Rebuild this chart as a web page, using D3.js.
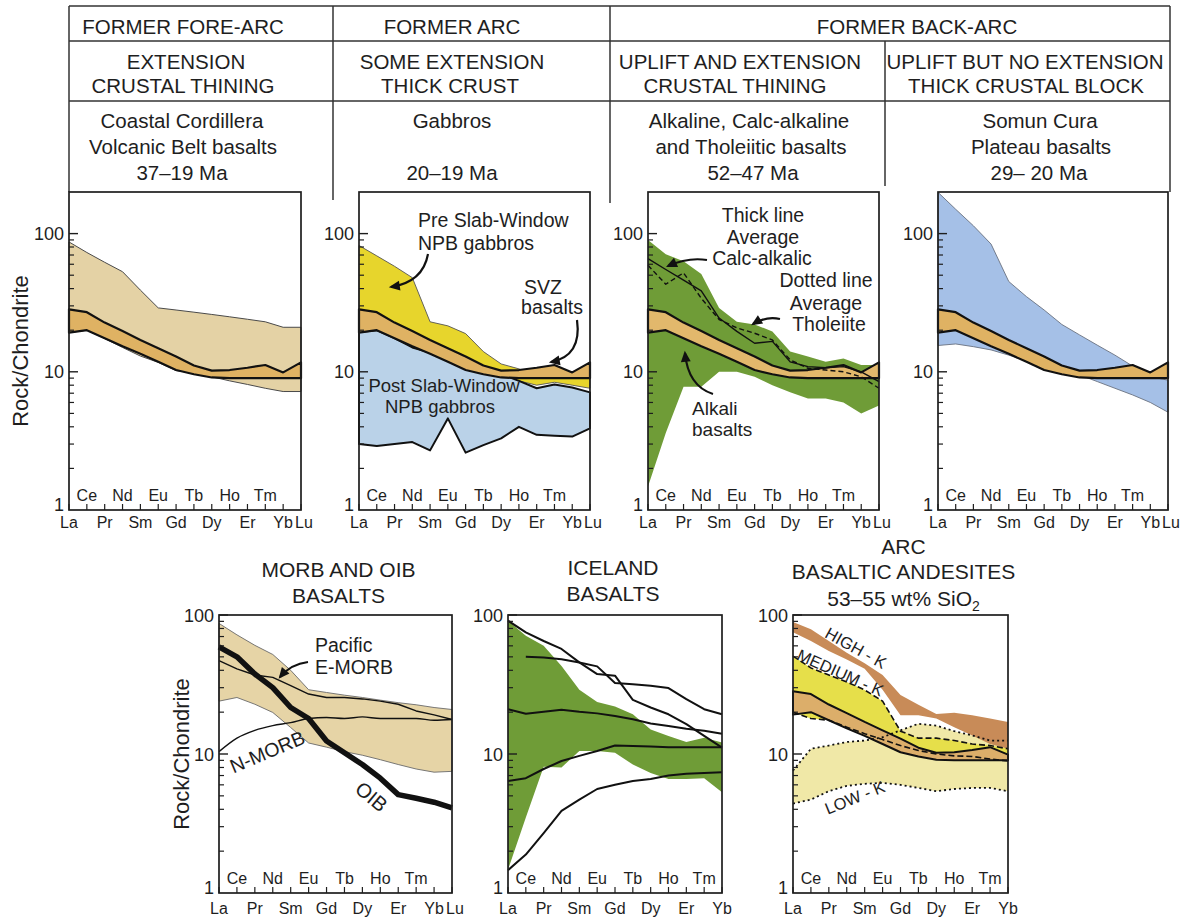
<!DOCTYPE html>
<html>
<head>
<meta charset="utf-8">
<script src="https://cdn.jsdelivr.net/npm/d3@7"></script>
<style>
  body { margin: 0; background: #fff; }
  text { font-family: "Liberation Sans", Arial, Helvetica, sans-serif; fill: #1e1e1e; }
</style>
</head>
<body>
<svg id="chart" width="1184" height="917"></svg>
<script>
// ---------- data ----------
const ree14 = ["La","Ce","Pr","Nd","Sm","Eu","Gd","Tb","Dy","Ho","Er","Tm","Yb","Lu"];
const ree13 = ree14.slice(0, 13);
const yTicks = [1, 10, 100];

// SVZ basalts band (reference field in the top panels and the arc panel)
const svzUpper = [28.3, 27, 22.7, 19.7, 17, 14.8, 12.9, 11.1, 10.2, 10.3, 10.7, 11.2, 9.9, 11.7];
const svzLower = [19.2, 20, 17.5, 15.3, 13.5, 11.8, 10.3, 9.6, 9.1, 9.0, 9.0, 9.0, 9.0, 9.0];

// former fore-arc: Coastal Cordillera basalts
const foreUpper = [87, 73, 62, 53, 39, 29, 28, 27, 26, 25, 24, 23, 21, 21];
const foreLower = [19.2, 20, 17.4, 15, 13, 11.7, 10.2, 9.8, 9.2, 8.6, 8.1, 7.6, 7.2, 7.2];

// former arc: gabbros
const preUpper  = [82, 69, 58, 48, 23, 21.5, 18.9, 14, 11.4, 10.5, 9.0, 9.0, 9.0, 9.0];
const preLower  = [19, 20, 17, 15, 13, 11.5, 10.5, 9.6, 9.2, 8.6, 8.0, 8.4, 8.0, 7.6];
const postUpper = [19.4, 20, 17.5, 15, 13.8, 12.6, 11.6, 10.5, 9.6, 8.6, 7.6, 8.1, 7.7, 7.1];
const postLower = [3.0, 2.9, 3.0, 3.1, 2.7, 4.6, 2.6, 2.95, 3.3, 4.0, 3.5, 3.45, 3.4, 3.9];

// former back-arc: alkaline / calc-alkaline / tholeiitic basalts
const alkUpper = [90, 71, 63, 51, 29, 23, 22, 19.6, 14, 12.9, 11.8, 12.5, 11.2, 11.2];
const alkLower = [1.48, 3.6, 7.8, 7.8, 10, 10, 9.2, 8.0, 7.1, 6.4, 6.4, 6.0, 5.0, 5.7];
const calcAlk  = [66, 55, 46, 38.5, 24.5, 19.6, 16.1, 16.6, 11.8, 10.9, 10.7, 10.9, 10, 8.5];
const thol     = [59, 43, 52, 34, 23.9, 20.8, 19, 17, 12.2, 10.6, 10.3, 10, 9.2, 7.6];

// Somun Cura plateau basalts
const somunUpper = [199, 150, 114, 84, 45, 35, 28, 22, 18.5, 15.6, 13.2, 11, 9.2, 8.7];
const somunLower = [15.5, 15.9, 15.2, 14.4, 13.2, 12, 10.9, 10, 9.5, 8.5, 7.6, 6.8, 6.0, 5.1];

// MORB and OIB
const morbUpper = [87, 72, 60.5, 52, 40, 29, 27.7, 26.5, 25.5, 24.4, 23.4, 22.6, 21.6, 20.9];
const morbLower = [24, 25.5, 22.8, 19.9, 15.5, 12, 11.2, 10.4, 9.8, 9.1, 8.4, 7.8, 7.4, 7.5];
const eMorb = [47, 41, 37, 35.6, 31, 27, 25.5, 25.5, 24.9, 24, 22.8, 20.4, 19.1, 17.7];
const nMorb = [10.4, 13, 14.8, 16, 16.8, 18, 18.3, 18, 18.5, 18, 18, 18, 17.5, 17.7];
const oib   = [59, 50, 37.6, 30, 21.6, 18, 12.4, 10.2, 8.4, 6.7, 5.1, 4.8, 4.5, 4.1];

// Iceland basalts
const iceUpper = [91, 71, 60, 43, 29, 23.7, 22, 19.3, 15, 13.5, 12.2, 13.1, 12.1];
const iceLower = [1.47, 3.5, 8.1, 8, 10.5, 10.5, 10.2, 8.4, 7.3, 6.6, 6.6, 6.7, 5.3];
const iceLines = [
  [91, 75, 65, 57, 45.6, 37.6, 36.6, 24.5, 21.6, 19.3, 16.4, 13.5, 11.1],
  [null, 50, 49.5, 48, 45.6, 42.7, 32.4, 31.8, 31, 29.8, 24.8, 21, 19.3],
  [21, 19.5, 20.1, 20.8, 20.1, 19.6, 18.8, 17.8, 16.6, 15.9, 15.2, 14.7, 14.0],
  [6.4, 6.7, 7.8, 8.9, 9.7, 10.5, 11.5, 11.4, 11.3, 11.2, 11.2, 11.2, 11.2],
  [1.46, 1.89, 2.7, 3.9, 4.7, 5.6, 6.0, 6.4, 6.6, 7.0, 7.2, 7.3, 7.4]
];

// arc basaltic andesites
const highKUpper = [89, 79, 65, 53.5, 45, 37, 26.6, 22.6, 19.4, 19.8, 19, 18, 17];
const highKLower = [75, 65, 55, 47.8, 41, 29, 19, 19, 18, 15.6, 13.6, 11.8, 10.9];
const medKUpper  = [50.6, 41.6, 37, 33, 28.9, 24, 14.6, 13, 13, 12.5, 11.8, 11.5, 10.9];
const medKLower  = [20, 18, 17.5, 15.6, 14, 12.7, 11.5, 10.6, 10, 9.7, 9.6, 9.2, 8.9];
const lowKUpper  = [7.6, 10.9, 11.5, 12.2, 12.5, 13.2, 14.8, 16.5, 16, 14.6, 13.6, 12.5, 12.5];
const lowKLower  = [4.4, 4.7, 5.4, 5.9, 6.1, 6.2, 6.0, 5.7, 5.4, 5.6, 5.7, 5.7, 5.4];

// ---------- helpers ----------
const svg = d3.select("#chart");

svg.append("defs").append("marker")
    .attr("id", "arrow")
    .attr("viewBox", "0 0 10 10")
    .attr("refX", 8).attr("refY", 5)
    .attr("markerUnits", "userSpaceOnUse")
    .attr("markerWidth", 13).attr("markerHeight", 11)
    .attr("orient", "auto")
  .append("path")
    .attr("d", "M0,0.5 L10,5 L0,9.5 Z")
    .attr("fill", "#111");

function addPanel(p) {
    const w = p.right - p.left, h = p.bottom - p.top;
    const g = svg.append("g").attr("transform", `translate(${p.left},${p.top})`);
    const x = d3.scalePoint().domain(p.el).range([0, w]);
    const y = d3.scaleLog().domain([1, p.ymax]).range([h, 0]);
    const plot = g.append("g");
    return { g, plot, x, y, w, h, el: p.el, gap: p.gap };
}

function field(P, upper, lower, fill, stroke, sw) {
    const area = d3.area()
        .x((d, i) => P.x(P.el[i]))
        .y0(d => P.y(d[1]))
        .y1(d => P.y(d[0]));
    P.plot.append("path")
        .datum(d3.zip(upper, lower))
        .attr("d", area)
        .attr("fill", fill)
        .attr("stroke", stroke || "none")
        .attr("stroke-width", sw || 1)
        .attr("stroke-linejoin", "round");
}

function curve(P, values, sw, dash, smooth) {
    const line = d3.line()
        .defined(d => d != null)
        .x((d, i) => P.x(P.el[i]))
        .y(d => P.y(d));
    if (smooth) line.curve(d3.curveMonotoneX);
    P.plot.append("path")
        .datum(values)
        .attr("d", line)
        .attr("fill", "none")
        .attr("stroke", "#111")
        .attr("stroke-width", sw)
        .attr("stroke-dasharray", dash || null)
        .attr("stroke-linejoin", "round");
}

function finishPanel(P) {
    const { g, x, y, w, h, el } = P;
    const top = y.domain()[1];

    g.append("rect")
        .attr("width", w).attr("height", h)
        .attr("fill", "none").attr("stroke", "#1e1e1e").attr("stroke-width", 1.7);

    const minor = [];
    for (let dec = 1; dec < top; dec *= 10)
        for (let k = 2; k <= 9; k++) if (k * dec < top) minor.push(k * dec);

    g.append("g").selectAll("line").data(minor).join("line")
        .attr("x1", 0).attr("x2", 5)
        .attr("y1", d => y(d)).attr("y2", d => y(d))
        .attr("stroke", "#1e1e1e").attr("stroke-width", 1.2);
    g.append("g").selectAll("line").data(yTicks.filter(d => d > 1)).join("line")
        .attr("x1", 0).attr("x2", 9)
        .attr("y1", d => y(d)).attr("y2", d => y(d))
        .attr("stroke", "#1e1e1e").attr("stroke-width", 1.4);

    const ya = g.append("g")
        .call(d3.axisLeft(y).tickValues(yTicks).tickSize(0).tickPadding(5).tickFormat(d3.format("d")));
    ya.select(".domain").remove();
    ya.selectAll("text")
        .attr("font-size", 18)
        .attr("font-family", null)
        .attr("fill", "#1e1e1e")
        .attr("dy", d => d === 1 ? "0.02em" : "0.34em");

    g.append("g").selectAll("line").data(el).join("line")
        .attr("x1", d => x(d)).attr("x2", d => x(d))
        .attr("y1", h).attr("y2", h - 6)
        .attr("stroke", "#1e1e1e").attr("stroke-width", 1.2);

    g.append("g").selectAll("text").data(el).join("text")
        .attr("x", d => x(d) + (d === "Lu" ? 3 : 0))
        .attr("y", (d, i) => (i % 2 === 0 || d === "Lu") ? h + P.gap : h - 9)
        .attr("text-anchor", "middle")
        .attr("font-size", 16)
        .text(d => d);
}

function label(P, txt, x, y, opts = {}) {
    const t = P.g.append("text")
        .attr("x", x).attr("y", y)
        .attr("font-size", opts.size || 19.5)
        .attr("text-anchor", opts.anchor || "start")
        .text(txt);
    if (opts.rotate) t.attr("transform", `rotate(${opts.rotate},${x},${y})`);
    return t;
}

function arrow(P, d) {
    P.g.append("path")
        .attr("d", d)
        .attr("fill", "none")
        .attr("stroke", "#111")
        .attr("stroke-width", 2.2)
        .attr("marker-end", "url(#arrow)");
}

// ---------- header table ----------
const hdr = svg.append("g").attr("stroke", "#333").attr("stroke-width", 1.5);
[[69, 6, 1170, 6], [69, 41, 1170, 41], [69, 101, 1170, 101],
 [69, 6, 69, 192], [1170, 6, 1170, 192],
 [333, 6, 333, 200], [610, 6, 610, 203], [885, 41, 885, 186]]
  .forEach(([x1, y1, x2, y2]) => hdr.append("line")
      .attr("x1", x1).attr("y1", y1).attr("x2", x2).attr("y2", y2));

const headerText = [
  [183, 34, "FORMER FORE-ARC"], [452, 34, "FORMER ARC"], [917, 34, "FORMER BACK-ARC"],
  [186, 69, "EXTENSION"], [452, 69, "SOME EXTENSION"], [740, 69, "UPLIFT AND EXTENSION"], [1025, 69, "UPLIFT BUT NO EXTENSION"],
  [183, 93, "CRUSTAL THINING"], [450, 93, "THICK CRUST"], [735, 93, "CRUSTAL THINING"], [1026, 93, "THICK CRUSTAL BLOCK"],
  [182, 128, "Coastal Cordillera"], [452, 128, "Gabbros"], [749, 128, "Alkaline, Calc-alkaline"], [1040, 128, "Somun Cura"],
  [183, 154, "Volcanic Belt basalts"], [751, 154, "and Tholeiitic basalts"], [1041, 154, "Plateau basalts"],
  [182, 180, "37\u201319 Ma"], [452, 180, "20\u201319 Ma"], [753, 180, "52\u201347 Ma"], [1039, 180, "29\u2013 20 Ma"]
];
svg.append("g").selectAll("text").data(headerText).join("text")
    .attr("x", d => d[0]).attr("y", d => d[1])
    .attr("text-anchor", "middle")
    .attr("font-size", 20.5)
    .text(d => d[2]);

// y-axis titles
[[28, 351], [189, 754]].forEach(([x, y]) => svg.append("text")
    .attr("transform", `translate(${x},${y}) rotate(-90)`)
    .attr("text-anchor", "middle")
    .attr("font-size", 22)
    .text("Rock/Chondrite"));

// ---------- top row ----------
const TOP = { top: 192, bottom: 510, ymax: 200, el: ree14, gap: 18 };

const P1 = addPanel({ ...TOP, left: 69, right: 301 });
field(P1, foreUpper, foreLower, "#e4d2a5", "#4a4a4a", 1);
field(P1, svzUpper, svzLower, "#dfb263", "#111", 2.2);
finishPanel(P1);

const P2 = addPanel({ ...TOP, left: 359, right: 590 });
field(P2, preUpper, preLower, "#e7d52c", "#555", 0.9);
field(P2, postUpper, postLower, "#bad2e8", "#111", 2);
field(P2, svzUpper, svzLower, "#dfb263", "#111", 2.2);
finishPanel(P2);
label(P2, "Pre Slab-Window", 59, 35);
label(P2, "NPB gabbros", 59, 58);
label(P2, "SVZ", 184, 102, { anchor: "middle" });
label(P2, "basalts", 193, 122, { anchor: "middle" });
label(P2, "Post Slab-Window", 85, 200, { anchor: "middle", size: 18.5 });
label(P2, "NPB gabbros", 81, 221, { anchor: "middle", size: 18.5 });
arrow(P2, "M69,62 Q64,90 32,95");
arrow(P2, "M218,128 Q223,164 192,170");

const P3 = addPanel({ ...TOP, left: 648, right: 879 });
field(P3, alkUpper, alkLower, "#6f9c37");
field(P3, svzUpper, svzLower, "#e2b86c", "#111", 2.2);
curve(P3, calcAlk, 1.4);
curve(P3, thol, 1.4, "5,3");
finishPanel(P3);
label(P3, "Thick line", 115, 30, { anchor: "middle" });
label(P3, "Average", 115, 52, { anchor: "middle" });
label(P3, "Calc-alkalic", 114, 73, { anchor: "middle" });
label(P3, "Dotted line", 178, 95, { anchor: "middle" });
label(P3, "Average", 178, 118, { anchor: "middle" });
label(P3, "Tholeiite", 181, 139, { anchor: "middle" });
label(P3, "Alkali", 44, 223, { size: 19 });
label(P3, "basalts", 44, 244, { size: 19 });
arrow(P3, "M59,68 Q40,65 20,74");
arrow(P3, "M132,127 Q118,124 105,132");
arrow(P3, "M65,202 Q40,194 37,161");

const P4 = addPanel({ ...TOP, left: 938, right: 1168 });
field(P4, somunUpper, somunLower, "#a5c0e7", "#6a7280", 0.9);
field(P4, svzUpper, svzLower, "#dfb263", "#111", 2.2);
finishPanel(P4);

// ---------- bottom row ----------
const BOT = { top: 615, bottom: 893, ymax: 100, gap: 21 };

const PA = addPanel({ ...BOT, left: 219, right: 452, el: ree14 });
field(PA, morbUpper, morbLower, "#e6d4a6", "#6a6a6a", 0.9);
curve(PA, eMorb, 1.4);
curve(PA, nMorb, 1.4, null, true);
curve(PA, oib, 5.5);
finishPanel(PA);
label(PA, "Pacific", 96, 37);
label(PA, "E-MORB", 96, 59);
label(PA, "N-MORB", 51, 143, { anchor: "middle", rotate: -23 });
label(PA, "OIB", 148, 187, { anchor: "middle", rotate: 40, size: 20 });
arrow(PA, "M89,47 Q72,49 61,62");
PA.g.append("text").attr("x", PA.w / 2 + 3).attr("y", -38).attr("text-anchor", "middle").attr("font-size", 21).text("MORB AND OIB");
PA.g.append("text").attr("x", PA.w / 2 + 3).attr("y", -12).attr("text-anchor", "middle").attr("font-size", 21).text("BASALTS");

const PB = addPanel({ ...BOT, left: 508, right: 722, el: ree13 });
field(PB, iceUpper, iceLower, "#6f9c37");
iceLines.forEach(s => curve(PB, s, 2));
finishPanel(PB);
PB.g.append("text").attr("x", PB.w / 2 - 2).attr("y", -40).attr("text-anchor", "middle").attr("font-size", 21).text("ICELAND");
PB.g.append("text").attr("x", PB.w / 2 - 2).attr("y", -14).attr("text-anchor", "middle").attr("font-size", 21).text("BASALTS");

const PC = addPanel({ ...BOT, left: 793, right: 1008, el: ree13 });
field(PC, lowKUpper, lowKLower, "#f0e8a7");
field(PC, highKUpper, highKLower, "#c88b58");
field(PC, medKUpper, medKLower, "#e6df4a");
field(PC, svzUpper.slice(0, 13), svzLower.slice(0, 13), "#dcae6a", "#111", 2);
curve(PC, lowKUpper, 1.8, "2,3");
curve(PC, lowKLower, 1.8, "2,3");
curve(PC, medKUpper, 1.6, "6,3");
curve(PC, medKLower, 1.6, "6,3");
finishPanel(PC);
label(PC, "HIGH - K", 60, 38, { anchor: "middle", rotate: 29, size: 16.5 });
label(PC, "MEDIUM - K", 45, 63, { anchor: "middle", rotate: 24, size: 16.5 });
label(PC, "LOW - K", 64, 188, { anchor: "middle", rotate: -22, size: 16.5 });
PC.g.append("text").attr("x", PC.w / 2 + 3).attr("y", -61).attr("text-anchor", "middle").attr("font-size", 21).text("ARC");
PC.g.append("text").attr("x", PC.w / 2 + 3).attr("y", -36).attr("text-anchor", "middle").attr("font-size", 21).text("BASALTIC ANDESITES");
const sio = PC.g.append("text").attr("x", PC.w / 2 + 3).attr("y", -9).attr("text-anchor", "middle").attr("font-size", 21);
sio.append("tspan").text("53\u201355 wt% SiO");
sio.append("tspan").attr("font-size", 14).attr("dy", 5).text("2");
</script>
</body>
</html>
